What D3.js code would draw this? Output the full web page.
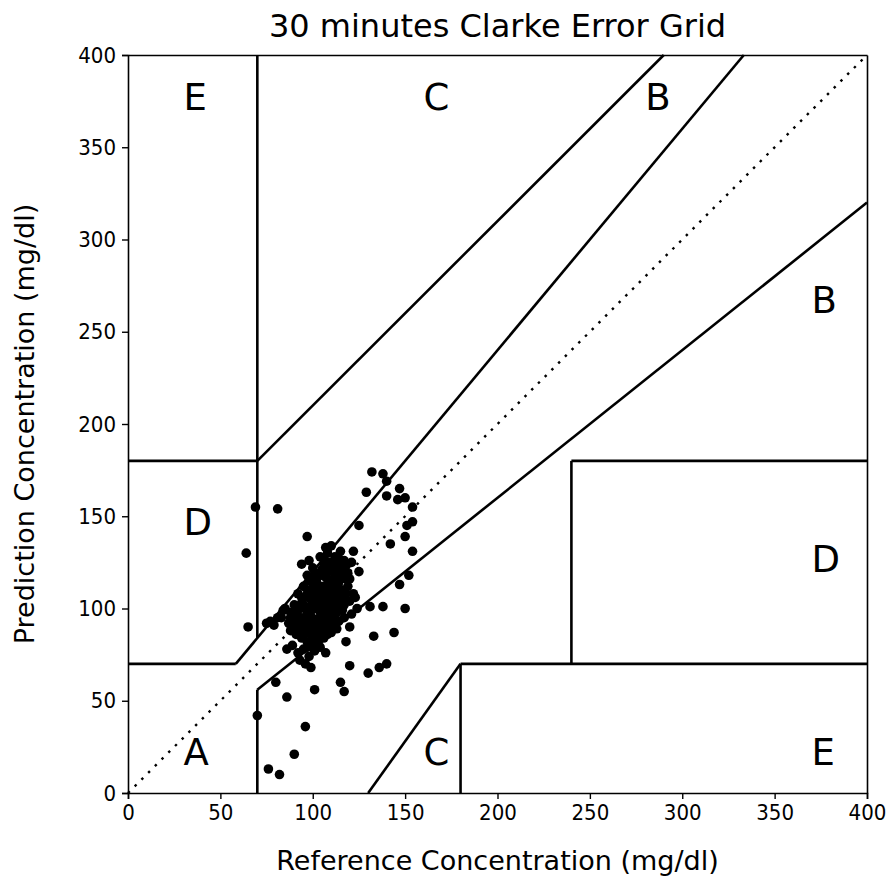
<!DOCTYPE html>
<html>
<head>
<meta charset="utf-8">
<script src="https://cdn.jsdelivr.net/npm/d3@7"></script>
<style>
  body { margin: 0; background: #fff; }
  text { font-family: "DejaVu Sans", sans-serif; fill: #000; }
</style>
</head>
<body>
<svg id="grid" width="895" height="879"></svg>
<script>
// reference / prediction pairs (mg/dl)
var refValues = [
  64, 69, 81, 65, 70, 76, 82, 90, 96, 86, 101, 80, 115, 117, 120, 130, 136, 140, 133, 144, 150, 138, 131, 118, 120,
  132, 138, 140, 129, 140, 147, 146, 150, 154, 97, 125, 154, 151, 150, 142, 154, 107, 115, 122, 98, 94, 125, 152, 147,
  104, 108, 112, 110, 117, 113,
  100, 103, 106, 109, 112, 115, 118, 120, 107, 102, 97, 104,
  95, 98, 101, 105, 108, 111, 114, 116, 119, 122, 110, 106, 103, 99, 96, 92,
  90, 93, 96, 99, 102, 105, 108, 111, 114, 117, 120, 123, 113, 110, 107, 104, 101, 98, 95, 92, 88, 85, 83, 87,
  90, 93, 96, 99, 102, 105, 108, 111, 114, 117, 106, 103, 100, 97, 94, 91, 88, 110, 113, 121, 124,
  89, 92, 95, 98, 101, 104, 107, 96, 93, 99, 86,
  77, 81, 84, 75, 79,
  106, 109, 103, 100, 107, 104, 110, 112, 115, 101, 98, 105, 108, 111, 114, 116, 119, 121, 97, 94, 91, 102, 99, 105, 108, 111,
  103, 106, 109, 112, 100, 97, 94, 101, 104, 107, 110, 113, 116, 118, 114, 111, 108, 105, 102, 99,
  106, 109, 112, 115, 118, 103, 106, 109, 100, 97, 94, 91, 88, 103, 100, 97, 95, 108, 112, 116
];
var predValues = [
  130, 155, 154, 90, 42, 13, 10, 21, 36, 52, 56, 60, 60, 55, 69, 65, 68, 70, 85, 87, 100, 101, 101, 82, 90,
  174, 173, 169, 163, 161, 165, 159, 160, 155, 139, 145, 147, 145, 139, 135, 131, 133, 131, 131, 126, 124, 120, 118, 113,
  128, 130, 128, 134, 126, 122,
  122, 119, 124, 121, 118, 120, 123, 116, 117, 115, 118, 112,
  112, 110, 108, 110, 113, 111, 114, 110, 112, 108, 106, 106, 104, 105, 106, 108,
  102, 100, 101, 99, 100, 102, 101, 103, 104, 102, 104, 106, 98, 97, 96, 95, 94, 93, 95, 96, 98, 100, 95, 92,
  90, 88, 89, 86, 88, 90, 92, 94, 93, 95, 84, 82, 80, 82, 84, 86, 88, 87, 89, 97, 100,
  80, 76, 78, 74, 77, 79, 76, 70, 72, 68, 78,
  93, 95, 99, 92, 91,
  108, 109, 106, 103, 104, 98, 100, 107, 108, 113, 115, 118, 116, 124, 127, 118, 119, 125, 98, 103, 93, 91, 96, 87, 88, 90,
  110, 112, 115, 116, 111, 108, 106, 101, 103, 99, 102, 101, 105, 108, 111, 113, 120, 121, 118, 117,
  127, 125, 123, 124, 116, 93, 94, 95, 90, 91, 92, 99, 95, 85, 84, 79, 86, 86, 96, 99
];
var tickValues = [0, 50, 100, 150, 200, 250, 300, 350, 400];

// zone boundaries of the Clarke error grid: [x1, y1, x2, y2]
var zoneLines = [
  [0, 70, 175 / 3, 70],
  [175 / 3, 70, 400 / 1.2, 400],
  [70, 84, 70, 400],
  [0, 180, 70, 180],
  [70, 180, 290, 400],
  [70, 0, 70, 56],
  [70, 56, 400, 320],
  [180, 0, 180, 70],
  [180, 70, 400, 70],
  [240, 70, 240, 180],
  [240, 180, 400, 180],
  [130, 0, 180, 70]
];
var zoneNames = ['A', 'B', 'B', 'C', 'C', 'D', 'D', 'E', 'E'];
var zoneX = [30, 370, 280, 160, 160, 30, 370, 30, 370];
var zoneY = [15, 260, 370, 370, 15, 140, 120, 370, 15];

var svg = d3.select('#grid');
var padding = { t: 55, r: 28, b: 86, l: 128 };
var chartWidth = +svg.attr('width') - padding.l - padding.r;
var chartHeight = +svg.attr('height') - padding.t - padding.b;

var chartG = svg.append('g')
  .attr('transform', 'translate(' + [padding.l, padding.t] + ')');

var xScale = d3.scaleLinear().domain([0, 400]).range([0, chartWidth]);
var yScale = d3.scaleLinear().domain([0, 400]).range([chartHeight, 0]);

// points first, lines drawn over them
chartG.selectAll('.pt')
  .data(refValues.map((r, i) => [r, predValues[i]]))
  .enter().append('circle')
  .attr('class', 'pt')
  .attr('cx', d => xScale(d[0]))
  .attr('cy', d => yScale(d[1]))
  .attr('r', 4.8)
  .style('fill', '#000');

chartG.append('line')
  .attr('x1', xScale(0)).attr('y1', yScale(0))
  .attr('x2', xScale(400)).attr('y2', yScale(400))
  .attr('stroke', '#000')
  .attr('stroke-width', 2.4)
  .attr('stroke-dasharray', '2.5 7');

chartG.selectAll('.zone')
  .data(zoneLines)
  .enter().append('line')
  .attr('class', 'zone')
  .attr('x1', d => xScale(d[0])).attr('y1', d => yScale(d[1]))
  .attr('x2', d => xScale(d[2])).attr('y2', d => yScale(d[3]))
  .attr('stroke', '#000')
  .attr('stroke-width', 2.6);

chartG.selectAll('.zlabel')
  .data(zoneNames)
  .enter().append('text')
  .attr('class', 'zlabel')
  .attr('x', (d, i) => xScale(zoneX[i]))
  .attr('y', (d, i) => yScale(zoneY[i]))
  .style('font-size', '37px')
  .text(d => d);

// axes
var xAxisG = chartG.append('g')
  .attr('transform', 'translate(0,' + chartHeight + ')')
  .call(d3.axisBottom(xScale).tickValues(tickValues).tickSizeOuter(0).tickSize(6).tickPadding(5));
var yAxisG = chartG.append('g')
  .call(d3.axisLeft(yScale).tickValues(tickValues).tickSizeOuter(0).tickSize(6).tickPadding(6));
chartG.append('g')
  .attr('transform', 'translate(' + chartWidth + ',0)')
  .call(d3.axisRight(yScale).tickValues([]).tickSizeOuter(0));
chartG.append('g')
  .call(d3.axisTop(xScale).tickValues([]).tickSizeOuter(0));

chartG.selectAll('.domain').attr('stroke', '#000').attr('stroke-width', 1.6);
chartG.selectAll('.tick line').attr('stroke', '#000').attr('stroke-width', 1.4);
chartG.selectAll('.tick text')
  .style('font-family', '"DejaVu Sans Condensed", "DejaVu Sans", sans-serif')
  .style('font-stretch', 'condensed')
  .style('font-size', '22px')
  .attr('fill', '#000');

svg.append('text')
  .attr('x', padding.l + chartWidth / 2)
  .attr('y', 37)
  .style('text-anchor', 'middle')
  .style('font-size', '32px')
  .text('30 minutes Clarke Error Grid');

svg.append('text')
  .attr('x', padding.l + chartWidth / 2)
  .attr('y', 870)
  .style('text-anchor', 'middle')
  .style('font-size', '27px')
  .text('Reference Concentration (mg/dl)');

svg.append('text')
  .attr('transform', 'translate(34,' + (padding.t + chartHeight / 2) + ') rotate(-90)')
  .style('text-anchor', 'middle')
  .style('font-size', '27px')
  .text('Prediction Concentration (mg/dl)');
</script>
</body>
</html>
